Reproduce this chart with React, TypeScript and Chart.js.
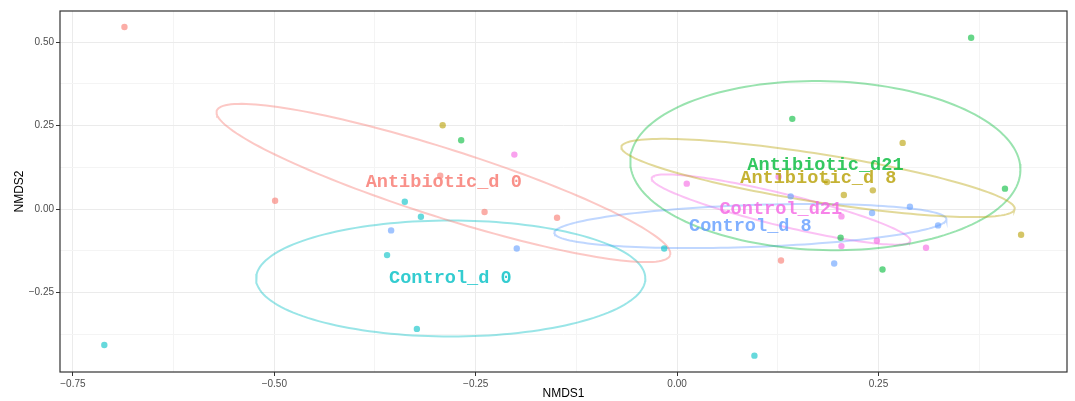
import React, { useEffect, useRef } from "react";
import { Chart, registerables } from "chart.js";

Chart.register(...registerables);

const groups = ["Antibiotic_d 0", "Antibiotic_d 8", "Antibiotic_d21", "Control_d 0", "Control_d 8", "Control_d21"];
const groupColors = ["248,118,109", "183,159,0", "0,186,56", "0,191,196", "97,156,255", "245,100,227"];

const abx0X = [-0.686, -0.499, -0.294, -0.239, -0.149, 0.129];
const abx0Y = [0.545, 0.025, 0.100, -0.009, -0.026, -0.154];
const abx8X = [-0.291, 0.186, 0.207, 0.243, 0.280, 0.427];
const abx8Y = [0.251, 0.081, 0.042, 0.056, 0.198, -0.077];
const abx21X = [-0.268, 0.143, 0.203, 0.255, 0.365, 0.407];
const abx21Y = [0.206, 0.270, -0.086, -0.181, 0.513, 0.061];
const ctl0X = [-0.711, -0.360, -0.338, -0.323, -0.318, -0.016, 0.096];
const ctl0Y = [-0.407, -0.138, 0.022, -0.359, -0.023, -0.118, -0.439];
const ctl8X = [-0.355, -0.199, 0.141, 0.195, 0.242, 0.289, 0.324];
const ctl8Y = [-0.064, -0.118, 0.038, -0.163, -0.012, 0.007, -0.049];
const ctl21X = [-0.202, 0.012, 0.126, 0.204, 0.204, 0.248, 0.309];
const ctl21Y = [0.163, 0.076, 0.097, -0.022, -0.111, -0.095, -0.116];

const groupX = [abx0X, abx8X, abx21X, ctl0X, ctl8X, ctl21X];
const groupY = [abx0Y, abx8Y, abx21Y, ctl0Y, ctl8Y, ctl21Y];

// 95% ellipse parameters per group: centre and two conjugate semi-axis vectors (data units)
const ellCx = [-0.290, 0.175, 0.184, -0.281, 0.091, 0.129];
const ellCy = [0.078, 0.093, 0.130, -0.208, -0.051, -0.0015];
const ellAx = [0.2814, 0.2441, 0.2422, 0.2416, 0.2433, 0.1605];
const ellAy = [-0.2160, -0.0932, -0.0153, 0, 0.0205, -0.0943];
const ellBx = [-0.0128, -0.0047, -0.0028, 0, 0.0009, -0.0047];
const ellBy = [-0.0975, -0.071, -0.2529, 0.1737, -0.0628, -0.0466];

const xTicks = [-0.75, -0.625, -0.5, -0.375, -0.25, -0.125, 0, 0.125, 0.25, 0.375];
const yTicks = [-0.375, -0.25, -0.125, 0, 0.125, 0.25, 0.375, 0.5];
const xMin = -0.766, xMax = 0.484, yMin = -0.488, yMax = 0.593;

const isMajor = (v: number) => Math.abs(v * 4 - Math.round(v * 4)) < 1e-9;
const fmt = (v: number) => (v < 0 ? "\u2212" : "") + Math.abs(v).toFixed(2);

function ellipsePoints(i: number) {
  const pts: { x: number; y: number }[] = [];
  const n = 160;
  for (let k = 0; k <= n; k++) {
    const t = (2 * Math.PI * k) / n;
    pts.push({
      x: ellCx[i] + Math.cos(t) * ellAx[i] + Math.sin(t) * ellBx[i],
      y: ellCy[i] + Math.cos(t) * ellAy[i] + Math.sin(t) * ellBy[i],
    });
  }
  return pts;
}

export default function App() {
  const ref = useRef<HTMLCanvasElement | null>(null);
  useEffect(() => {
    document.body.style.margin = "0";
    const canvas = ref.current;
    if (!canvas) return;

    const pointSets = groups.map((g, i) => ({
      label: g,
      data: groupX[i].map((x, j) => ({ x, y: groupY[i][j] })),
      backgroundColor: `rgba(${groupColors[i]},0.6)`,
      borderWidth: 0,
      pointRadius: 3.2,
      showLine: false,
    }));
    const ellSets = groups.map((g, i) => ({
      label: g + " ellipse",
      data: ellipsePoints(i),
      borderColor: `rgba(${groupColors[i]},0.4)`,
      borderWidth: 2,
      pointRadius: 0,
      showLine: true,
      fill: false,
      tension: 0,
    }));

    const labelPlugin = {
      id: "groupLabels",
      afterDatasetsDraw(chart: any) {
        const ctx = chart.ctx;
        const xs = chart.scales.x, ys = chart.scales.y;
        ctx.save();
        ctx.font = 'bold 18.6px "Liberation Mono", monospace';
        ctx.textAlign = "center";
        ctx.textBaseline = "middle";
        groups.forEach((g, i) => {
          const mx = groupX[i].reduce((a, b) => a + b, 0) / groupX[i].length;
          const my = groupY[i].reduce((a, b) => a + b, 0) / groupY[i].length;
          ctx.fillStyle = `rgba(${groupColors[i]},0.8)`;
          ctx.fillText(g, xs.getPixelForValue(mx), ys.getPixelForValue(my));
        });
        ctx.restore();
      },
      afterDraw(chart: any) {
        const { left, right, top, bottom } = chart.chartArea;
        const ctx = chart.ctx;
        ctx.save();
        ctx.strokeStyle = "#333333";
        ctx.lineWidth = 1.2;
        ctx.strokeRect(left, top, right - left, bottom - top);
        ctx.restore();
      },
    };

    const gridColor = (c: any) => (c.tick && isMajor(c.tick.value) ? "#EBEBEB" : "#F4F4F4");
    const tickColor = (c: any) => (c.tick && isMajor(c.tick.value) ? "#333333" : "rgba(0,0,0,0)");

    const chart = new Chart(canvas, {
      type: "scatter",
      data: { datasets: [...pointSets, ...ellSets] as any },
      plugins: [labelPlugin],
      options: {
        animation: false,
        responsive: false,
        layout: { padding: { top: 11, right: 8, left: 0, bottom: 0 } },
        plugins: { legend: { display: false }, tooltip: { enabled: false } },
        scales: {
          x: {
            type: "linear",
            min: xMin,
            max: xMax,
            afterBuildTicks: (s: any) => {
              s.ticks = xTicks.map((v) => ({ value: v }));
            },
            afterFit: (s: any) => {
              s.height = 29;
            },
            ticks: {
              autoSkip: false,
              maxRotation: 0,
              padding: 2,
              color: "#4D4D4D",
              font: { family: '"Liberation Sans", Arial, sans-serif', size: 10 },
              callback: (v: any) => (isMajor(Number(v)) ? fmt(Number(v)) : ""),
            },
            grid: { color: gridColor, tickColor, tickLength: 4, lineWidth: 1 },
            border: { display: false },
            title: {
              display: true,
              text: "NMDS1",
              color: "#000000",
              font: { family: '"Liberation Sans", Arial, sans-serif', size: 12 },
              padding: { top: 0, bottom: 0 },
            },
          },
          y: {
            type: "linear",
            min: yMin,
            max: yMax,
            afterBuildTicks: (s: any) => {
              s.ticks = yTicks.map((v) => ({ value: v }));
            },
            afterFit: (s: any) => {
              s.width = 60;
            },
            ticks: {
              autoSkip: false,
              padding: 2,
              color: "#4D4D4D",
              font: { family: '"Liberation Sans", Arial, sans-serif', size: 10 },
              callback: (v: any) => (isMajor(Number(v)) ? fmt(Number(v)) : ""),
            },
            grid: { color: gridColor, tickColor, tickLength: 4, lineWidth: 1 },
            border: { display: false },
            title: {
              display: true,
              text: "NMDS2",
              color: "#000000",
              font: { family: '"Liberation Sans", Arial, sans-serif', size: 12 },
              padding: { top: 12, bottom: 0 },
            },
          },
        },
      } as any,
    });
    return () => chart.destroy();
  }, []);

  return (
    <div style={{ width: 1075, height: 401 }}>
      <canvas ref={ref} width={1075} height={401} />
    </div>
  );
}
